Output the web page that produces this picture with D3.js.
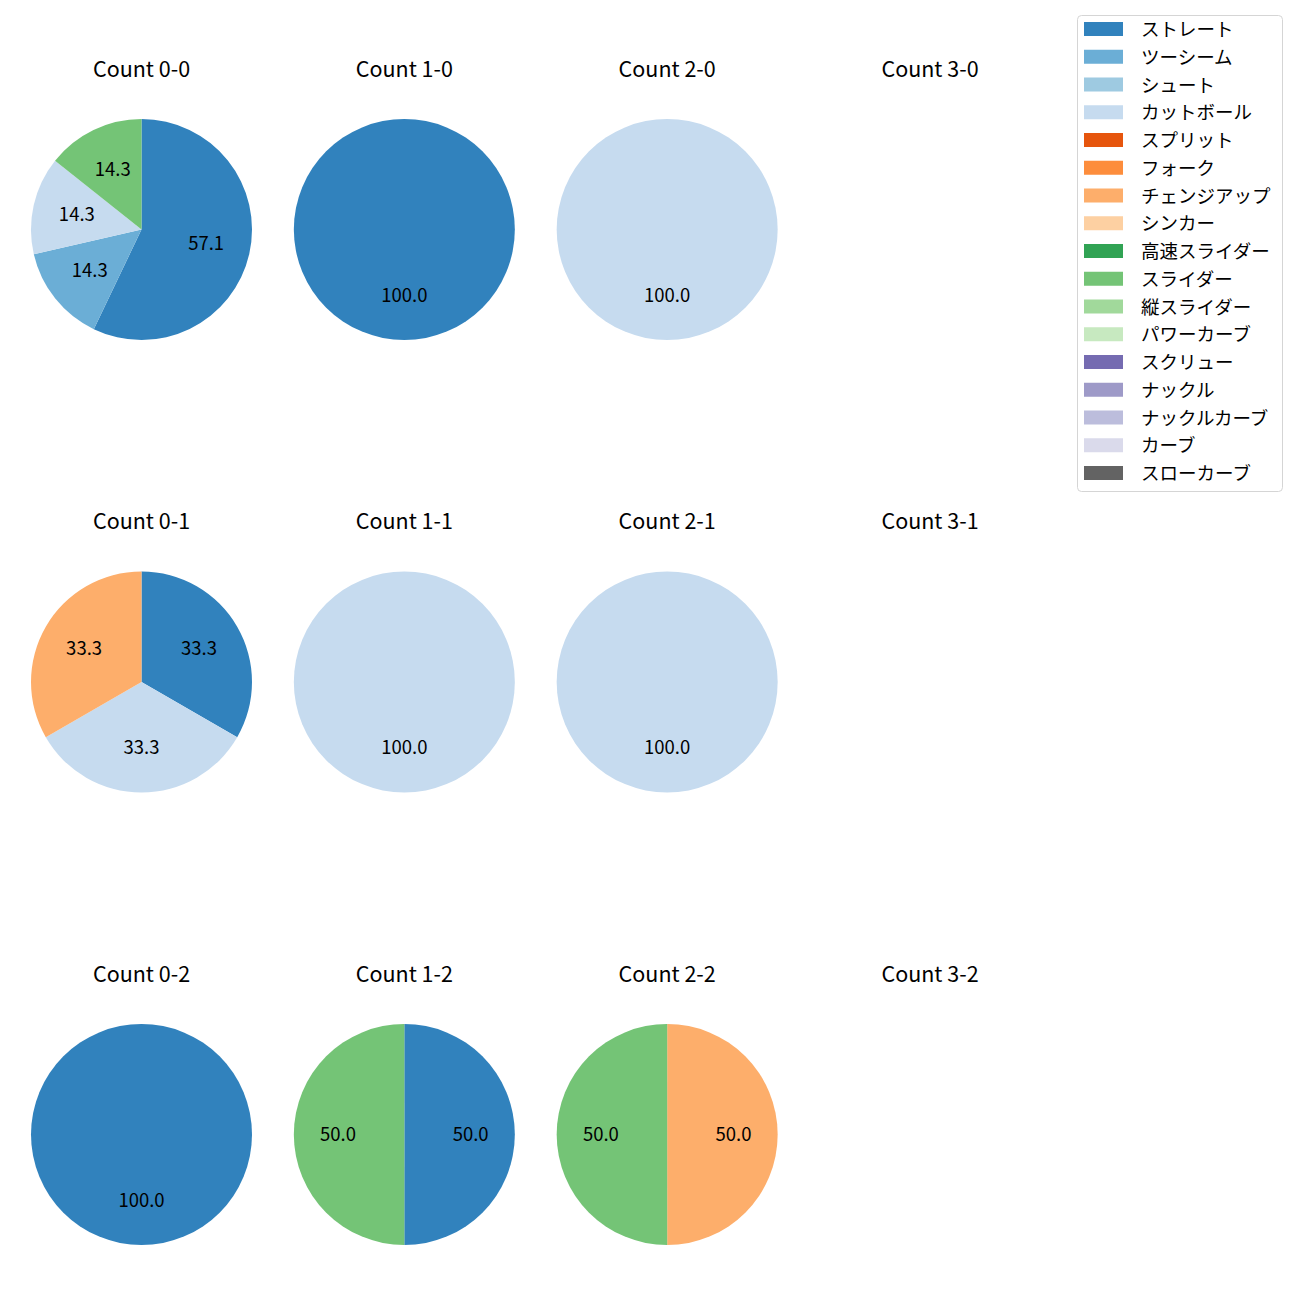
<!DOCTYPE html>
<html><head><meta charset="utf-8">
<script src="https://cdn.jsdelivr.net/npm/d3@7"></script>
<style>body{margin:0;background:#fff}</style>
</head><body>
<script>
const categories = ["ストレート","ツーシーム","シュート","カットボール","スプリット","フォーク","チェンジアップ","シンカー","高速スライダー","スライダー","縦スライダー","パワーカーブ","スクリュー","ナックル","ナックルカーブ","カーブ","スローカーブ"];
const palette = ["#3182bd","#6baed6","#9ecae1","#c6dbef","#e6550d","#fd8d3c","#fdae6b","#fdd0a2","#31a354","#74c476","#a1d99b","#c7e9c0","#756bb1","#9e9ac8","#bcbddc","#dadaeb","#636363"];
const balls = [0,1,2,3];
const strikes = [0,1,2];
// percentage per pitch type for each count (ball-strike)
const count00 = [["ストレート",57.1],["ツーシーム",14.3],["カットボール",14.3],["スライダー",14.3]];
const count10 = [["ストレート",100]];
const count20 = [["カットボール",100]];
const count30 = [];
const count01 = [["ストレート",33.3],["カットボール",33.3],["チェンジアップ",33.3]];
const count11 = [["カットボール",100]];
const count21 = [["カットボール",100]];
const count31 = [];
const count02 = [["ストレート",100]];
const count12 = [["ストレート",50],["スライダー",50]];
const count22 = [["チェンジアップ",50],["スライダー",50]];
const count32 = [];
const cells = [[count00,count10,count20,count30],[count01,count11,count21,count31],[count02,count12,count22,count32]];

const W = 1300, H = 1300;
const font = "'Noto Sans CJK JP', 'Noto Sans', sans-serif";
const svg = d3.select("body").append("svg").attr("width",W).attr("height",H)
  .style("font-family",font);
const color = d3.scaleOrdinal().domain(categories).range(palette);
const colX = d3.scalePoint().domain(balls).range([141.5,930]);
const rowY = d3.scalePoint().domain(strikes).range([229.5,1134.5]);
const R = 110.5;
const pie = d3.pie().sort(null).value(d=>d[1]).startAngle(0).endAngle(2*Math.PI);
const arc = d3.arc().innerRadius(0).outerRadius(R);
const labelArc = d3.arc().innerRadius(R*0.6).outerRadius(R*0.6);

strikes.forEach(s=>{
  balls.forEach(b=>{
    const data = cells[s][b];
    const g = svg.append("g").attr("transform",`translate(${colX(b)},${rowY(s)})`);
    g.append("text").attr("x",0).attr("y",-162.5).attr("text-anchor","middle").attr("dominant-baseline","central")
      .attr("font-size",21.5).attr("fill","#000").text(`Count ${b}-${s}`);
    if (!data.length) return;
    const total = d3.sum(data,d=>d[1]);
    const arcs = pie(data);
    g.selectAll("path").data(arcs).join("path").attr("d",arc).attr("fill",d=>color(d.data[0]));
    g.selectAll("text.lbl").data(arcs).join("text").attr("class","lbl")
      .attr("transform",d=>{const c = labelArc.centroid(d); return `translate(${c[0]},${c[1]-2})`;})
      .attr("text-anchor","middle").attr("dominant-baseline","central")
      .attr("font-size",18.5).attr("fill","#000")
      .text(d=>(d.data[1]/total*100).toFixed(1));
  });
});

// legend
const lg = svg.append("g");
lg.append("rect").attr("x",1077.5).attr("y",15.5).attr("width",205).attr("height",476)
  .attr("rx",4).attr("fill","#fff").attr("stroke","#d5d5d5");
const ly = d3.scaleLinear().domain([0,categories.length-1]).range([29,473]);
categories.forEach((c,i)=>{
  lg.append("rect").attr("x",1084).attr("y",ly(i)-7).attr("width",39).attr("height",14).attr("fill",color(c));
  lg.append("text").attr("x",1141).attr("y",ly(i)-1).attr("dominant-baseline","central")
    .attr("font-size",18.5).attr("fill","#000").text(c);
});
</script>
</body></html>
